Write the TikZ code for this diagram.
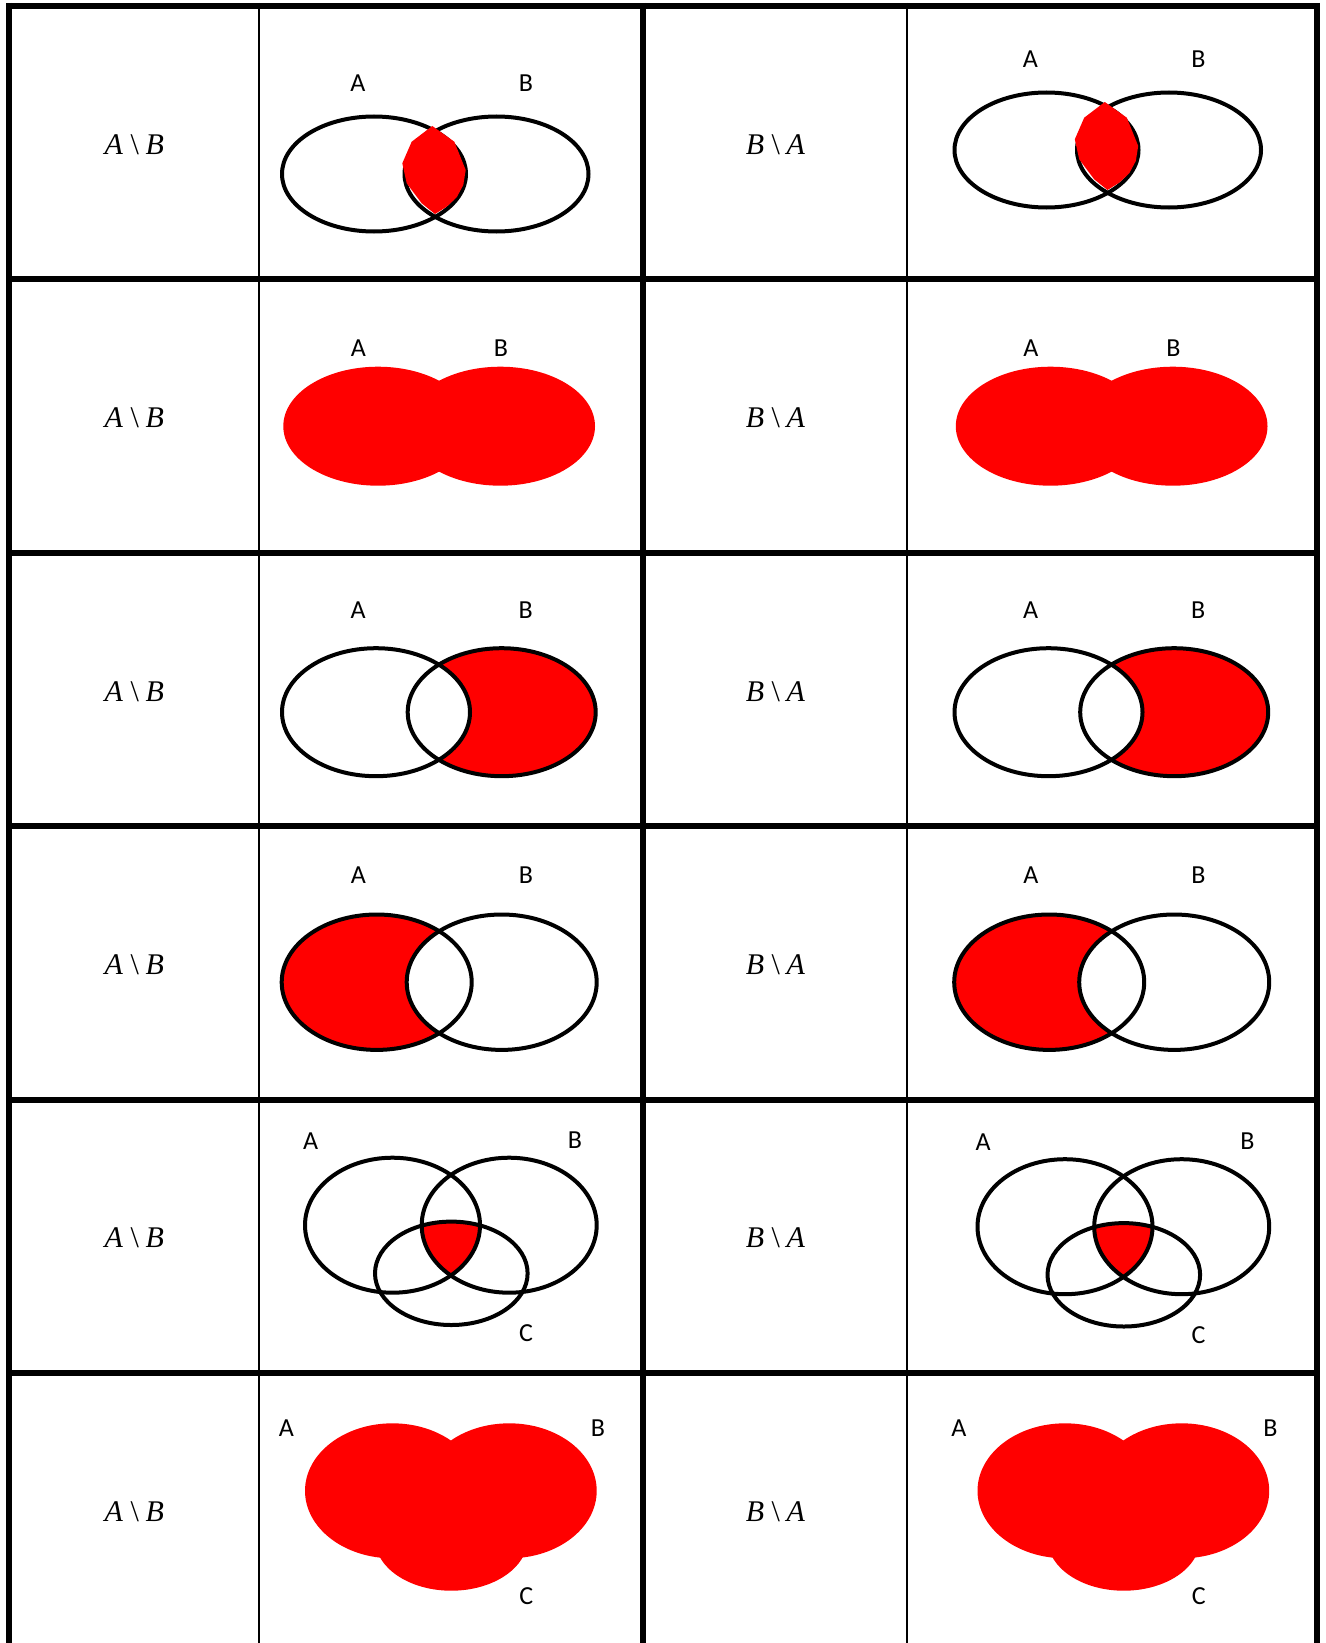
\documentclass[tikz,border=0pt]{standalone}
\usepackage{fontspec}
\newfontfamily\labelfont{Carlito}
\newfontfamily\formulafont{Liberation Serif}

\begin{document}
\begin{tikzpicture}[
				x=1pt, y=-1pt,
				outer/.style={line width=6pt},
				inner/.style={line width=2pt},
				setline/.style={line width=4pt},
				setname/.style={font=\fontsize{26}{30}\labelfont, inner sep=0pt},
				formula/.style={font=\fontsize{30}{34}\formulafont, inner sep=0pt, anchor=base}
				]
				\useasboundingbox (0,0) rectangle (1325,1643);
				
				% table
				\foreach \y in {6,279.4,552.8,826.2,1099.6,1373}
				\draw[outer] (6,\y) -- (1320,\y);
				\draw[outer] (9,3) -- (9,1643);
				\draw[inner] (259,3) -- (259,1643);
				\draw[outer] (643,3) -- (643,1643);
				\draw[inner] (907,3) -- (907,1643);
				\draw[outer] (1317,3) -- (1317,1643);
				
				\foreach \r/\y in {1/154.3,2/427.7,3/701.1,4/974.5,5/1247.9,6/1521.3} {
					\node[formula] (left\r) at (134.3,\y) {\textit{A}\hspace{0.25em}\textbackslash\hspace{0.22em}\textit{B}};
					\node[formula] (right\r) at (775.5,\y) {\textit{B}\hspace{0.25em}\textbackslash\hspace{0.22em}\textit{A}};
				}
				
				% row 1: lens
				\foreach \s/\t/\k in {0/0/l,672.5/-24/r} {
					\begin{scope}[shift={(\s,\t)}]
						\draw[setline] (374,174) ellipse [x radius=92pt, y radius=57.5pt];
						\draw[setline] (496.5,174) ellipse [x radius=92pt, y radius=57.5pt];
						\fill[red] (432.3,126) -- (454.3,141.7) -- (465.7,170) -- (463.3,185)
						-- (456.7,197.3) -- (446.7,206.7) -- (435,214) -- (421.7,203.3)
						-- (406.7,183.3) -- (402.3,163.3) -- (411.7,141.7) -- cycle;
						\node[setname] (a1\k) at (358,83) {A};
						\node[setname] (b1\k) at (526,83) {B};
					\end{scope}
				}
				
				% row 2: union of two
				\foreach \s/\k in {0/l,672.5/r} {
					\begin{scope}[shift={(\s,0)}]
						\fill[red] (378,426.2) ellipse [x radius=94.7pt, y radius=59.5pt];
						\fill[red] (500.3,426.2) ellipse [x radius=94.7pt, y radius=59.5pt];
						\node[setname] (a2\k) at (358.3,348.3) {A};
						\node[setname] (b2\k) at (501,348.3) {B};
					\end{scope}
				}
				
				% row 3: B without A
				\foreach \s/\k in {0/l,672.5/r} {
					\begin{scope}[shift={(\s,0)}]
						\fill[red] (501.7,712.2) ellipse [x radius=94pt, y radius=64pt];
						\fill[white] (376,712.2) ellipse [x radius=94pt, y radius=64pt];
						\draw[setline] (376,712.2) ellipse [x radius=94pt, y radius=64pt];
						\draw[setline] (501.7,712.2) ellipse [x radius=94pt, y radius=64pt];
						\node[setname] (a3\k) at (358.2,610.6) {A};
						\node[setname] (b3\k) at (525.8,610.6) {B};
					\end{scope}
				}
				
				% row 4: A without B
				\foreach \s/\k in {0/l,672.5/r} {
					\begin{scope}[shift={(\s,0)}]
						\fill[red] (376.7,982.2) ellipse [x radius=95pt, y radius=67.7pt];
						\fill[white] (501.7,982.2) ellipse [x radius=95pt, y radius=67.7pt];
						\draw[setline] (376.7,982.2) ellipse [x radius=95pt, y radius=67.7pt];
						\draw[setline] (501.7,982.2) ellipse [x radius=95pt, y radius=67.7pt];
						\node[setname] (a4\k) at (358.3,875) {A};
						\node[setname] (b4\k) at (526,875) {B};
					\end{scope}
				}
				
				% row 5: intersection of three
				\foreach \s/\t/\k in {0/0/l,672.5/1.5/r} {
					\begin{scope}[shift={(\s,\t)}]
						\begin{scope}
							\clip (392.5,1225.2) ellipse [x radius=87.5pt, y radius=67.5pt];
							\clip (509.2,1225.2) ellipse [x radius=87.5pt, y radius=67.5pt];
							\fill[red] (451.3,1273.3) ellipse [x radius=76.3pt, y radius=51.7pt];
						\end{scope}
						\draw[setline] (392.5,1225.2) ellipse [x radius=87.5pt, y radius=67.5pt];
						\draw[setline] (509.2,1225.2) ellipse [x radius=87.5pt, y radius=67.5pt];
						\draw[setline] (451.3,1273.3) ellipse [x radius=76.3pt, y radius=51.7pt];
						\node[setname] (a5\k) at (310.7,1140.7) {A};
						\node[setname] (b5\k) at (575,1140) {B};
						\node[setname] (c5\k) at (526,1333.3) {C};
					\end{scope}
				}
				
				% row 6: union of three
				\foreach \s/\k in {0/l,672.5/r} {
					\begin{scope}[shift={(\s,0)}]
						\fill[red] (392.5,1490.8) ellipse [x radius=87.5pt, y radius=67.5pt];
						\fill[red] (509.2,1490.8) ellipse [x radius=87.5pt, y radius=67.5pt];
						\fill[red] (451.3,1539) ellipse [x radius=76.3pt, y radius=51.7pt];
						\node[setname] (a6\k) at (286.3,1428.3) {A};
						\node[setname] (b6\k) at (598,1428.3) {B};
						\node[setname] (c6\k) at (526.3,1596) {C};
					\end{scope}
				}
			\end{tikzpicture}
\end{document}
